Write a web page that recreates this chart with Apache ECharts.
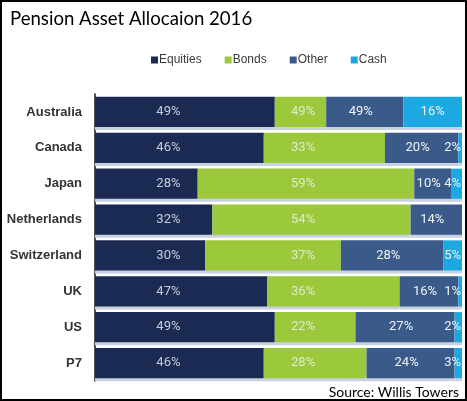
<!DOCTYPE html>
<html><head><meta charset="utf-8">
<script src="https://cdn.jsdelivr.net/npm/echarts@6/dist/echarts.min.js"></script>
<style>html,body{margin:0;padding:0;background:#fff}#c{width:467px;height:401px}</style>
</head><body><div id="c"></div>
<script>
const categories = ['Australia','Canada','Japan','Netherlands','Switzerland','UK','US','P7'];
const seriesNames = ['Equities','Bonds','Other','Cash'];
const equities = [49,46,28,32,30,47,49,46];
const bonds    = [14,33,59,54,37,36,22,28];
const other    = [21,20,10,14,28,16,27,24];
const cash     = [16,2,4,0,5,1,2,3];
const equitiesLabels = ['49%','46%','28%','32%','30%','47%','49%','46%'];
const bondsLabels    = ['49%','33%','59%','54%','37%','36%','22%','28%'];
const otherLabels    = ['49%','20%','10%','14%','28%','16%','27%','24%'];
const cashLabels     = ['16%','2%','4%','','5%','1%','2%','3%'];

const colors = ['#1b2a52','#9cc83c','#3a5a8a','#1ca8e0'];
const labelFont = {color:'#f0f3f6', fontFamily:'Roboto', fontSize:13};
const barShadow = {shadowColor:'#c8d1e0', shadowOffsetY:3, shadowBlur:0};

function barSeries(name, values, color, labelCfg){
  return {
    name, type:'bar', stack:'total', barCategoryGap:'16%',
    itemStyle:Object.assign({color}, barShadow),
    label: labelCfg,
    data: values
  };
}

const chart = echarts.init(document.getElementById('c'));
chart.setOption({
  animation:false,
  color: colors,
  title:{text:'Pension Asset Allocaion 2016', left:5, top:4,
    textStyle:{fontFamily:'Lato', fontSize:18.6, fontWeight:'normal', color:'#000'}},
  legend:{data:seriesNames, left:146, top:49, icon:'rect', itemWidth:7, itemHeight:7, itemGap:23,
    textStyle:{fontFamily:'Arial', fontSize:12, color:'#3a3a3a', padding:[0,0,0,-4]}},
  grid:{left:95, right:5, top:94, bottom:20},
  xAxis:{type:'value', min:0, max:100, show:false},
  yAxis:{type:'category', data:categories, inverse:true,
    axisLine:{lineStyle:{color:'#1a1a1a', width:1.5}},
    axisTick:{show:false},
    axisLabel:{fontFamily:'Arial', fontWeight:'bold', fontSize:13, color:'#333', margin:13}},
  graphic:[
    {type:'rect', shape:{x:1,y:1,width:465,height:399}, style:{fill:'none', stroke:'#000', lineWidth:2}, z:100},
    {type:'text', style:{text:'Source: Willis Towers', x:459, y:392, textAlign:'right', textVerticalAlign:'middle',
      fontFamily:'Lato', fontSize:14, fill:'#000'}}
  ],
  series:[
    barSeries('Equities', equities, colors[0], {show:false}),
    barSeries('Bonds', bonds, colors[1], {show:false}),
    barSeries('Other', other, colors[2], Object.assign({show:true, position:'inside', offset:[-4,0],
      formatter:p=>otherLabels[p.dataIndex]}, labelFont)),
    Object.assign(barSeries('Cash', cash.map(v=>({value:v, label:{position: v<10?'insideRight':'inside'}})), colors[3],
      Object.assign({show:true, distance:1, formatter:p=>cashLabels[p.dataIndex]}, labelFont))),
    {name:'equitiesText', type:'scatter', symbolSize:1, itemStyle:{color:'rgba(0,0,0,0)'}, silent:true, z:5,
      label:Object.assign({show:true, position:'inside', formatter:p=>equitiesLabels[p.dataIndex]}, labelFont),
      data: categories.map((c,i)=>[20, i])},
    {name:'bondsText', type:'scatter', symbolSize:1, itemStyle:{color:'rgba(0,0,0,0)'}, silent:true, z:5,
      label:Object.assign({show:true, position:'inside', formatter:p=>bondsLabels[p.dataIndex]}, labelFont),
      data: categories.map((c,i)=>[56.7, i])}
  ]
});
</script></body></html>
